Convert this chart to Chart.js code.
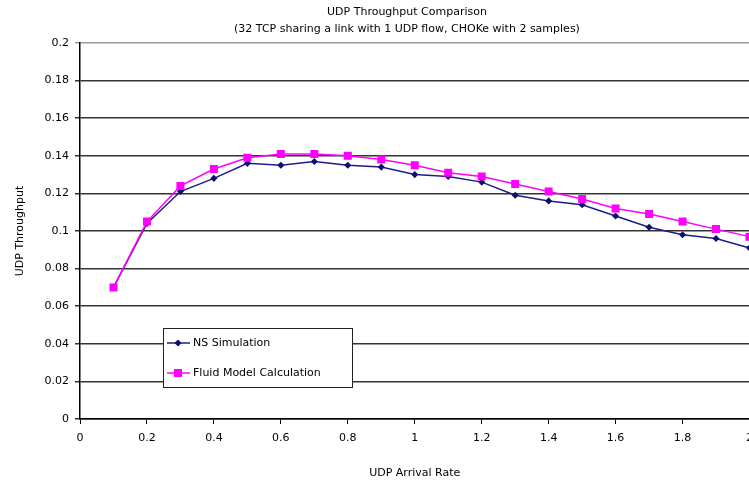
<!DOCTYPE html>
<html>
<head>
<meta charset="utf-8">
<script src="https://cdn.jsdelivr.net/npm/chart.js@4"></script>
<style>
  html, body { margin: 0; padding: 0; background: #fff; overflow: hidden; width: 749px; height: 486px; }
  #wrap { position: relative; width: 749px; height: 486px; overflow: hidden; }
  canvas { position: absolute; left: 0; top: 0; }
  .ttl { position: absolute; left: 0; width: 814px; text-align: center; font: 11px "DejaVu Sans", sans-serif; color: #000; white-space: nowrap; }
</style>
</head>
<body>
<div id="wrap">
  <canvas id="udpChart" width="761" height="486"></canvas>
  <div class="ttl" style="top:5px">UDP Throughput Comparison</div>
  <div class="ttl" style="top:22px">(32 TCP sharing a link with 1 UDP flow, CHOKe with 2 samples)</div>
</div>
<script>
// udp arrival rate (x) and the two throughput series
const arrivalRate = [0.1, 0.2, 0.3, 0.4, 0.5, 0.6, 0.7, 0.8, 0.9, 1.0,
                     1.1, 1.2, 1.3, 1.4, 1.5, 1.6, 1.7, 1.8, 1.9, 2.0];
const nsSimulation = [0.070, 0.104, 0.121, 0.128, 0.136, 0.135, 0.137, 0.135, 0.134, 0.130,
                      0.129, 0.126, 0.119, 0.116, 0.114, 0.108, 0.102, 0.098, 0.096, 0.091];
const fluidModel = [0.070, 0.105, 0.124, 0.133, 0.139, 0.141, 0.141, 0.140, 0.138, 0.135,
                    0.131, 0.129, 0.125, 0.121, 0.117, 0.112, 0.109, 0.105, 0.101, 0.097];
const seriesNames = ['NS Simulation', 'Fluid Model Calculation'];

const FONT = { family: '"DejaVu Sans", sans-serif', size: 11 };

const toPoints = (xs, ys) => xs.map((x, i) => ({ x: x, y: ys[i] }));
const trimNum = (v, d) => String(Number(v.toFixed(d)));

// legend box sitting inside the plot, like the excel one
const boxLegend = {
    id: 'boxLegend',
    afterDraw(chart, args, opts) {
        const ctx = chart.ctx;
        ctx.save();
        ctx.fillStyle = '#fff';
        ctx.fillRect(opts.x, opts.y, opts.w, opts.h);
        ctx.strokeStyle = '#222';
        ctx.lineWidth = 1;
        ctx.strokeRect(opts.x + 0.5, opts.y + 0.5, opts.w, opts.h);
        chart.data.datasets.forEach((ds, i) => {
            const y = opts.y + 15 + i * 30;
            ctx.strokeStyle = ds.borderColor;
            ctx.lineWidth = 1.5;
            ctx.beginPath();
            ctx.moveTo(opts.x + 4, y);
            ctx.lineTo(opts.x + 27, y);
            ctx.stroke();
            ctx.fillStyle = ds.pointBackgroundColor;
            ctx.strokeStyle = ds.pointBorderColor;
            Chart.helpers.drawPoint(ctx, { pointStyle: ds.pointStyle, radius: ds.pointRadius, borderWidth: 1 }, opts.x + 15, y);
            ctx.fillStyle = '#000';
            ctx.font = FONT.size + 'px ' + FONT.family;
            ctx.textBaseline = 'middle';
            ctx.fillText(ds.label, opts.x + 30, y);
        });
        ctx.restore();
    }
};

const ctx = document.getElementById('udpChart').getContext('2d');
new Chart(ctx, {
    type: 'line',
    data: {
        datasets: [{
            label: seriesNames[0],
            data: toPoints(arrivalRate, nsSimulation),
            borderColor: '#1c1c8c',
            backgroundColor: '#1c1c8c',
            pointBackgroundColor: '#10106e',
            pointBorderColor: '#10106e',
            pointStyle: 'rectRot',
            pointRadius: 2.5,
            borderWidth: 1.5,
            tension: 0,
            order: 1
        }, {
            label: seriesNames[1],
            data: toPoints(arrivalRate, fluidModel),
            borderColor: '#ff00ff',
            backgroundColor: '#ff00ff',
            pointBackgroundColor: '#ff00ff',
            pointBorderColor: '#ff00ff',
            pointStyle: 'rect',
            pointRadius: 4.6,
            borderWidth: 1.5,
            tension: 0,
            order: 0
        }]
    },
    options: {
        responsive: false,
        animation: false,
        events: [],
        layout: { padding: { top: 43, left: 0, right: 0, bottom: 0 } },
        plugins: {
            legend: { display: false },
            tooltip: { enabled: false },
            title: { display: false },
            boxLegend: { x: 163, y: 328, w: 189, h: 59 }
        },
        scales: {
            x: {
                type: 'linear',
                min: 0,
                max: 2,
                afterFit: s => { s.height = 67; },
                ticks: {
                    stepSize: 0.2,
                    maxRotation: 0,
                    padding: 8,
                    color: '#000',
                    font: FONT,
                    callback: v => trimNum(v, 1)
                },
                grid: { drawOnChartArea: false, drawTicks: true, tickLength: 5, color: '#000', lineWidth: 1 },
                border: { color: '#000', width: 1.5 },
                title: { display: true, text: 'UDP Arrival Rate', color: '#000', font: FONT, padding: { top: 22, bottom: 6.4 } }
            },
            y: {
                min: 0,
                max: 0.2,
                afterFit: s => { s.width = 80; },
                ticks: {
                    stepSize: 0.02,
                    padding: 6,
                    color: '#000',
                    font: FONT,
                    callback: v => trimNum(v, 2)
                },
                grid: {
                    tickLength: 5,
                    lineWidth: 1.5,
                    color: c => (c.index === 10 ? '#999' : '#333')
                },
                border: { color: '#000', width: 1.5 },
                title: { display: true, text: 'UDP Throughput', color: '#000', font: FONT, padding: { top: 13.4, bottom: 0 } }
            }
        }
    },
    plugins: [boxLegend]
});
</script>
</body>
</html>
